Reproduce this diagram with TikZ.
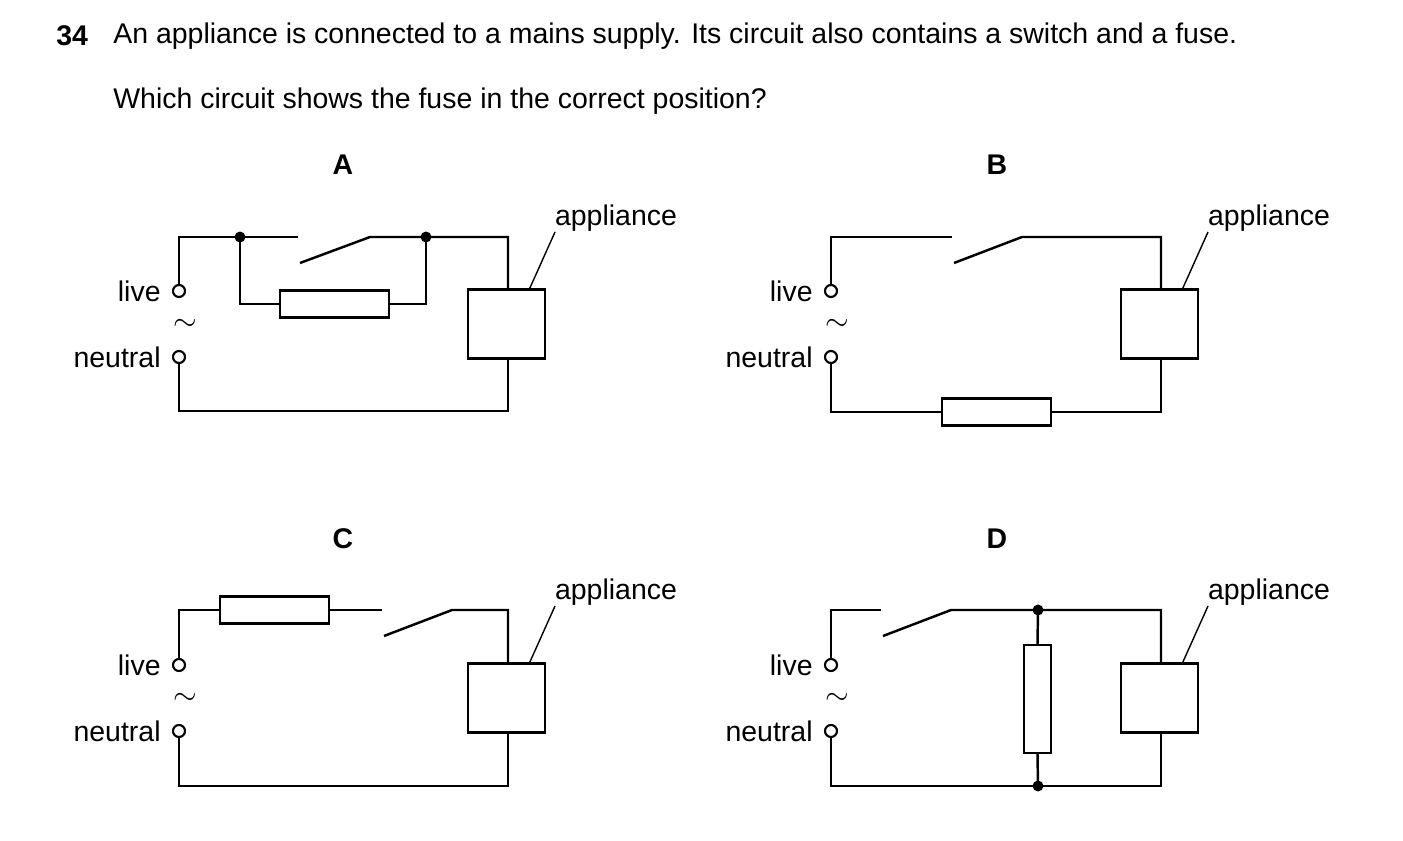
\documentclass[tikz,border=0pt]{standalone}
\usepackage{fontspec}
\setmainfont{Liberation Sans}
\usetikzlibrary{positioning}

\begin{document}
\begin{tikzpicture}[
	x=0.02cm, y=-0.02cm,
	every node/.style={font=\fontsize{16.2}{19}\selectfont, inner sep=0pt},
	wire/.style={line width=1.4pt},
	term/.style={circle, draw, line width=1.2pt, minimum size=0.24cm},
	fusebox/.style={rectangle, draw, line width=1.4pt, minimum width=2.18cm, minimum height=0.54cm},
	vfusebox/.style={rectangle, draw, line width=1.4pt, minimum width=0.54cm, minimum height=2.16cm},
	appbox/.style={rectangle, draw, line width=1.4pt, minimum width=1.54cm, minimum height=1.38cm},
	joint/.style={circle, fill, minimum size=0.22cm},
]
\useasboundingbox (0,0) rectangle (1403,841);

% question
\node[anchor=west, font=\fontsize{16.2}{19}\selectfont\bfseries] (num) at (56,36) {34};
\node[anchor=west] (q1) at (113,36) {An appliance is connected to a mains supply. Its circuit also contains a switch and a fuse.};
\node[anchor=west] (q2) at (113,101) {Which circuit shows the fuse in the correct position?};

% supply terminals, appliance and labels for one circuit
\newcommand\mainsside[2]{%
  \node[term] (#1live) at (#2,291) {};
  \node[term] (#1neu) at (#2,357) {};
  \node[left=0.22cm of #1live] {live};
  \node[left=0.22cm of #1neu] {neutral};
  \node at (#2+6,325) {$\sim$};
}

% ---- A ----
\begin{scope}
\node[font=\fontsize{16.2}{19}\selectfont\bfseries] (tA) at (343,165) {A};
\mainsside{A}{179}
\node[appbox] (Aapp) at (506.5,324) {};
\node (Alab) at (616,218) {appliance};
\node[fusebox] (Afuse) at (334.5,304) {};
\coordinate (Atl) at (179,237);
\coordinate (Asw) at (298,237);
\coordinate (Aswa) at (300,263);
\coordinate (Aswb) at (370,237);
\coordinate (Atr) at (508,237);
\coordinate (Abl) at (179,411);
\coordinate (Abr) at (508,411);
\node[joint] (Aj1) at (240,237) {};
\node[joint] (Aj2) at (426,237) {};
\draw[wire] (Alive.north) -- (Atl) -- (Asw);
\draw[wire] (Aswa) -- (Aswb) -- (Atr) -- (Aapp.north -| Atr);
\draw[wire] (Aj1.center) |- (Afuse.west);
\draw[wire] (Aj2.center) |- (Afuse.east);
\draw[wire] (Aapp.south -| Abr) -- (Abr) -- (Abl) -- (Aneu.south);
\draw[line width=0.8pt] (555,232) -- (529,290);
\end{scope}

% ---- B ----
\begin{scope}
\node[font=\fontsize{16.2}{19}\selectfont\bfseries] (tB) at (997,165) {B};
\mainsside{B}{831}
\node[appbox] (Bapp) at (1159.5,324) {};
\node (Blab) at (1269,218) {appliance};
\node[fusebox] (Bfuse) at (996.5,412) {};
\coordinate (Btl) at (831,237);
\coordinate (Bsw) at (952,237);
\coordinate (Bswa) at (954,263);
\coordinate (Bswb) at (1022,237);
\coordinate (Btr) at (1161,237);
\coordinate (Bbl) at (831,412);
\coordinate (Bbr) at (1161,412);
\draw[wire] (Blive.north) -- (Btl) -- (Bsw);
\draw[wire] (Bswa) -- (Bswb) -- (Btr) -- (Bapp.north -| Btr);
\draw[wire] (Bapp.south -| Bbr) -- (Bbr) -- (Bfuse.east);
\draw[wire] (Bfuse.west) -- (Bbl) -- (Bneu.south);
\draw[line width=0.8pt] (1208,232) -- (1182,290);
\end{scope}

% ---- C ----
\begin{scope}[yshift=-374*0.02cm]
\node[font=\fontsize{16.2}{19}\selectfont\bfseries] (tC) at (343,165) {C};
\mainsside{C}{179}
\node[appbox] (Capp) at (506.5,324) {};
\node (Clab) at (616,218) {appliance};
\node[fusebox] (Cfuse) at (274.5,236) {};
\coordinate (Ctl) at (179,236);
\coordinate (Csw) at (382,236);
\coordinate (Cswa) at (384,262);
\coordinate (Cswb) at (452,236);
\coordinate (Ctr) at (508,236);
\coordinate (Cbl) at (179,412);
\coordinate (Cbr) at (508,412);
\draw[wire] (Clive.north) -- (Ctl) -- (Cfuse.west);
\draw[wire] (Cfuse.east) -- (Csw);
\draw[wire] (Cswa) -- (Cswb) -- (Ctr) -- (Capp.north -| Ctr);
\draw[wire] (Capp.south -| Cbr) -- (Cbr) -- (Cbl) -- (Cneu.south);
\draw[line width=0.8pt] (555,232) -- (529,290);
\end{scope}

% ---- D ----
\begin{scope}[yshift=-374*0.02cm]
\node[font=\fontsize{16.2}{19}\selectfont\bfseries] (tD) at (997,165) {D};
\mainsside{D}{831}
\node[appbox] (Dapp) at (1159.5,324) {};
\node (Dlab) at (1269,218) {appliance};
\node[vfusebox] (Dfuse) at (1037.5,325) {};
\coordinate (Dtl) at (831,236);
\coordinate (Dsw) at (881,236);
\coordinate (Dswa) at (883,262);
\coordinate (Dswb) at (951,236);
\coordinate (Dtr) at (1161,236);
\coordinate (Dbl) at (831,412);
\coordinate (Dbr) at (1161,412);
\node[joint] (Dj1) at (1038,236) {};
\node[joint] (Dj2) at (1038,412) {};
\draw[wire] (Dlive.north) -- (Dtl) -- (Dsw);
\draw[wire] (Dswa) -- (Dswb) -- (Dtr) -- (Dapp.north -| Dtr);
\draw[wire] (Dj1.center) -- (Dfuse.north);
\draw[wire] (Dfuse.south) -- (Dj2.center);
\draw[wire] (Dapp.south -| Dbr) -- (Dbr) -- (Dbl) -- (Dneu.south);
\draw[line width=0.8pt] (1208,232) -- (1182,290);
\end{scope}
\end{tikzpicture}
\end{document}
